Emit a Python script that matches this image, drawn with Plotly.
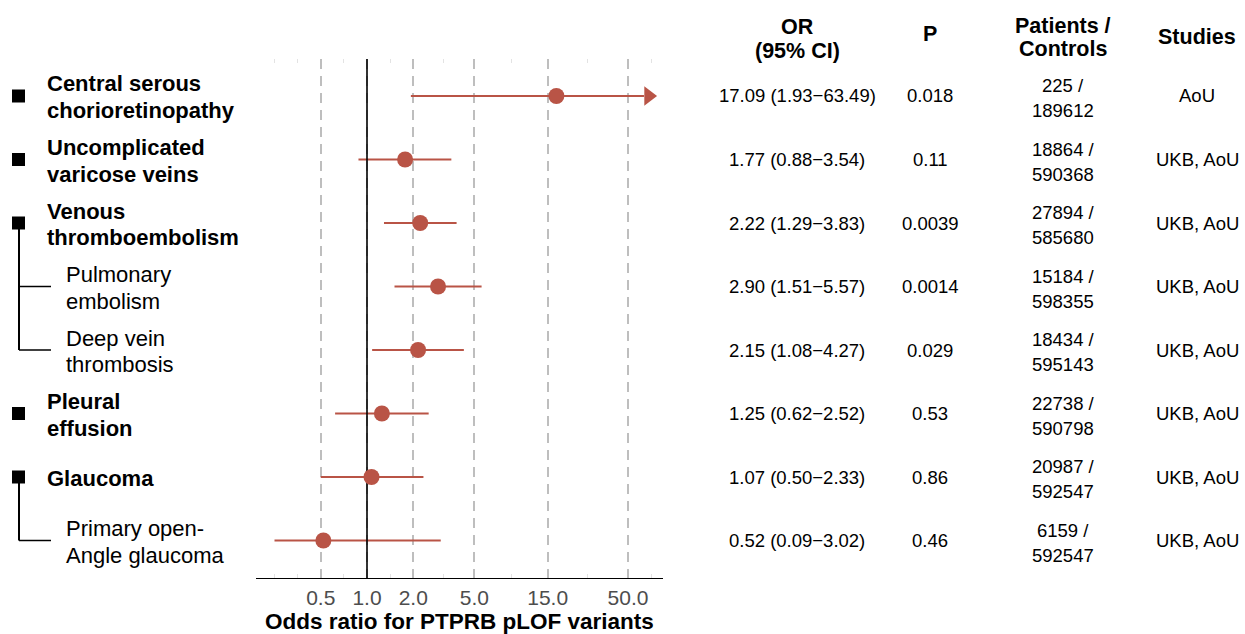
import math
import plotly.graph_objects as go

# ---------------- data ----------------
labels = [
    ["Central serous", "chorioretinopathy"],
    ["Uncomplicated", "varicose veins"],
    ["Venous", "thromboembolism"],
    ["Pulmonary", "embolism"],
    ["Deep vein", "thrombosis"],
    ["Pleural", "effusion"],
    ["Glaucoma"],
    ["Primary open-", "Angle glaucoma"],
]
level = [0, 0, 0, 1, 1, 0, 0, 1]
parent = [None, None, None, 2, 2, None, None, 6]
odds = [17.09, 1.77, 2.22, 2.90, 2.15, 1.25, 1.07, 0.52]
ci_lo = [1.93, 0.88, 1.29, 1.51, 1.08, 0.62, 0.50, 0.09]
ci_hi = [63.49, 3.54, 3.83, 5.57, 4.27, 2.52, 2.33, 3.02]
p_vals = ["0.018", "0.11", "0.0039", "0.0014", "0.029", "0.53", "0.86", "0.46"]
patients = [225, 18864, 27894, 15184, 18434, 22738, 20987, 6159]
controls = [189612, 590368, 585680, 598355, 595143, 590798, 592547, 592547]
studies = ["AoU", "UKB, AoU", "UKB, AoU", "UKB, AoU", "UKB, AoU", "UKB, AoU", "UKB, AoU", "UKB, AoU"]
headers = [["OR", "(95% CI)"], ["P"], ["Patients /", "Controls"], ["Studies"]]
x_ticks = [0.5, 1.0, 2.0, 5.0, 15.0, 50.0]
x_tick_text = ["0.5", "1.0", "2.0", "5.0", "15.0", "50.0"]
x_minor = [0.25, 0.354, 0.707, 1.414, 3.162, 8.66, 27.39, 70.71]
x_title = "Odds ratio for PTPRB pLOF variants"

# ---------------- layout constants ----------------
W, H = 1245, 634
PL, PR, PT, PB = 256, 663, 59, 578
ROW0, ROWPX = 96.0, 63.5
X_LIM = (0.25, 64.0)
CLIP_LO = 0.25
ARROW_AT = 68.0
ARROW_IF_ABOVE = 60.0
RED = "#B95446"
FONT = "Liberation Sans, Arial, sans-serif"

n = len(odds)
rows = list(range(1, n + 1))


def y_of_px(px):
    return 1 + (px - ROW0) / ROWPX


def dy(px):
    return px / ROWPX


span = math.log10(X_LIM[1]) - math.log10(X_LIM[0])
xr = [math.log10(X_LIM[0]) - 0.05 * span, math.log10(X_LIM[1]) + 0.05 * span]
yr = [y_of_px(PB), y_of_px(PT)]

fig = go.Figure()

# CI lines
cx, cy = [], []
for i in range(n):
    cx += [max(ci_lo[i], CLIP_LO), ci_hi[i], None]
    cy += [rows[i], rows[i], None]
fig.add_trace(go.Scatter(x=cx, y=cy, mode="lines", line=dict(color=RED, width=2),
                         hoverinfo="skip", showlegend=False))
# reference line at OR = 1
fig.add_trace(go.Scatter(x=[1, 1], y=yr, mode="lines", line=dict(color="black", width=1.6),
                         hoverinfo="skip", showlegend=False))
# arrows for truncated CI
ax_i = [i for i in range(n) if ci_hi[i] > ARROW_IF_ABOVE]
fig.add_trace(go.Scatter(x=[ARROW_AT for _ in ax_i], y=[rows[i] for i in ax_i], mode="markers",
                         marker=dict(symbol="triangle-right", size=17, color=RED),
                         hoverinfo="skip", showlegend=False))
# points
fig.add_trace(go.Scatter(x=odds, y=rows, mode="markers",
                         marker=dict(symbol="circle", size=16, color=RED),
                         showlegend=False))

# left tree (x3 in pixel units)
sq_rows = [rows[i] for i in range(n) if level[i] == 0]
fig.add_trace(go.Scatter(x=[18.5] * len(sq_rows), y=sq_rows, xaxis="x3", mode="markers",
                         marker=dict(symbol="square", size=13, color="black"),
                         hoverinfo="skip", showlegend=False))
tx, ty = [], []
for i in range(n):
    if parent[i] is not None:
        tx += [19, 51, None]
        ty += [rows[i], rows[i], None]
fig.add_trace(go.Scatter(x=tx, y=ty, xaxis="x3", mode="lines", line=dict(color="black", width=1.5),
                         hoverinfo="skip", showlegend=False))
vx, vy = [], []
for p in sorted(set(q for q in parent if q is not None)):
    last = max(rows[i] for i in range(n) if parent[i] == p)
    vx += [19, 19, None]
    vy += [rows[p], last, None]
fig.add_trace(go.Scatter(x=vx, y=vy, xaxis="x3", mode="lines", line=dict(color="black", width=2),
                         hoverinfo="skip", showlegend=False))

ann = []
for i in range(n):
    lines = labels[i]
    offs = [1.5] if len(lines) == 1 else [-12.0, 14.5]
    for ln, o in zip(lines, offs):
        ann.append(dict(x=45 if level[i] == 0 else 64, y=rows[i] + dy(o), xref="x3", yref="y",
                        text=f"<b>{ln}</b>" if level[i] == 0 else ln, showarrow=False,
                        xanchor="left", yanchor="middle",
                        font=dict(size=22, color="black", family=FONT)))

# table
COLX = [797, 930, 1063, 1197]
TF = dict(size=18.5, color="black", family=FONT)
for i in range(n):
    ann.append(dict(x=COLX[0] / W, y=rows[i], xref="paper", yref="y",
                    text=f"{odds[i]:.2f} ({ci_lo[i]:.2f}\u2212{ci_hi[i]:.2f})",
                    showarrow=False, xanchor="center", yanchor="middle", font=TF))
    ann.append(dict(x=COLX[1] / W, y=rows[i], xref="paper", yref="y", text=p_vals[i],
                    showarrow=False, xanchor="center", yanchor="middle", font=TF))
    for txt, o in ((f"{patients[i]} /", -10.5), (f"{controls[i]}", 14.5)):
        ann.append(dict(x=COLX[2] / W, y=rows[i] + dy(o), xref="paper", yref="y", text=txt,
                        showarrow=False, xanchor="center", yanchor="middle", font=TF))
    ann.append(dict(x=COLX[3] / W, y=rows[i], xref="paper", yref="y", text=studies[i],
                    showarrow=False, xanchor="center", yanchor="middle", font=TF))

HF = dict(size=21.5, color="black", family=FONT)
head_y = [[27.5, 51.0], [34.0], [26.0, 49.5], [37.5]]
for c, hl in enumerate(headers):
    for txt, ypx in zip(hl, head_y[c]):
        ann.append(dict(x=COLX[c] / W, y=1 - ypx / H, xref="paper", yref="paper",
                        text=f"<b>{txt}</b>", showarrow=False, xanchor="center",
                        yanchor="middle", font=HF))

# axis title
ann.append(dict(x=(PL + PR) / 2 / W, y=1 - 621 / H, xref="paper", yref="paper",
                text=f"<b>{x_title}</b>", showarrow=False, xanchor="center", yanchor="middle",
                font=dict(size=22.5, color="black", family=FONT)))

fig.update_layout(
    width=W, height=H,
    margin=dict(l=0, r=0, t=0, b=0),
    paper_bgcolor="white", plot_bgcolor="white",
    font=dict(family=FONT),
    showlegend=False,
    annotations=ann,
    xaxis=dict(
        type="log", range=xr, domain=[PL / W, PR / W], anchor="y",
        tickmode="array", tickvals=x_ticks, ticktext=x_tick_text,
        tickfont=dict(size=21, color="#4D4D4D", family=FONT),
        ticks="", ticklabelstandoff=1,
        showgrid=True, gridcolor="#BEBEBE", gridwidth=1.5, griddash="10px,7px",
        showline=True, linecolor="black", linewidth=1.3, zeroline=False,
        minor=dict(tickvals=x_minor, ticks="inside", ticklen=4, tickcolor="#E3E3E3",
                   tickwidth=1, showgrid=False),
    ),
    xaxis2=dict(
        type="log", range=xr, domain=[PL / W, PR / W], anchor="y", overlaying="x",
        side="top", showticklabels=False, showgrid=False, showline=False, zeroline=False,
        ticks="", minor=dict(tickvals=x_minor, ticks="inside", ticklen=4,
                             tickcolor="#E3E3E3", tickwidth=1, showgrid=False),
    ),
    xaxis3=dict(range=[0, PL], domain=[0, PL / W], anchor="y", visible=False),
    yaxis=dict(range=yr, domain=[1 - PB / H, 1 - PT / H], visible=False, anchor="x"),
)
# invisible trace so xaxis2 is drawn
fig.add_trace(go.Scatter(x=[1], y=[1], xaxis="x2", mode="markers", marker=dict(opacity=0),
                         hoverinfo="skip", showlegend=False))

fig.write_html("out.html", config={"displayModeBar": False},
               post_script="document.body.style.margin='0px';document.body.style.overflow='hidden';")
